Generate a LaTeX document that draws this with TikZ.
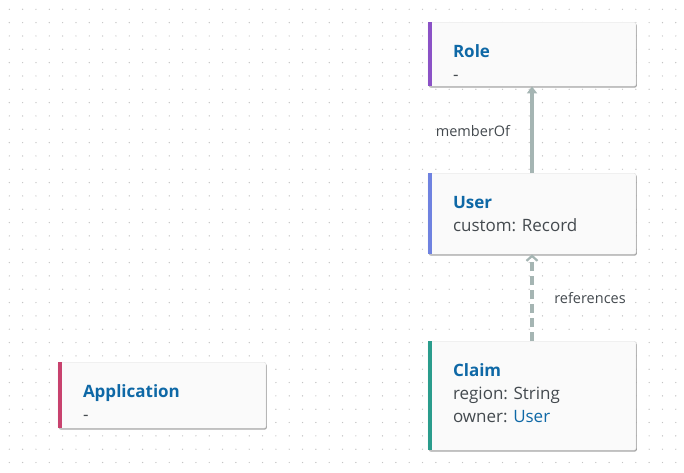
\documentclass[tikz,border=0pt]{standalone}
\usepackage{fontspec}
\setmainfont{Open Sans}
\frenchspacing
\usetikzlibrary{shadows,arrows.meta}

\definecolor{titleblue}{HTML}{0E68A6}
\definecolor{bodygray}{HTML}{444A4F}
\definecolor{linkgray}{HTML}{A5B5B3}
\definecolor{dotgray}{HTML}{C4C4C4}
\definecolor{rolec}{HTML}{8B52C6}
\definecolor{userc}{HTML}{6F82E0}
\definecolor{claimc}{HTML}{2A9C8C}
\definecolor{appc}{HTML}{C8426E}

\begin{document}
\begin{tikzpicture}[x=1pt,y=-1pt]
    \tikzstyle{entity}=[rectangle,rounded corners=2pt,draw=black!12,fill=white!98!black,anchor=north,
        text width=158pt,inner xsep=25pt,inner ysep=0pt,align=left,text height=35pt,
        font=\fontsize{17}{23}\selectfont,text=bodygray,
        drop shadow={shadow xshift=0.8pt,shadow yshift=-1.4pt,opacity=0.35,fill=black}]
    \tikzstyle{link}=[draw=linkgray,line width=3.5pt]
    \tikzstyle{linklabel}=[font=\fontsize{14.5}{16}\selectfont,text=bodygray,inner sep=1pt]
    \newcommand{\etitle}[1]{{\color{titleblue}\bfseries #1}}

\useasboundingbox[fill=white] (0,0) rectangle (684,472);
\foreach \i in {0,...,51}
    \foreach \j in {0,...,35}
        \fill[dotgray] (9.3+13.33*\i,9.3+13.33*\j) circle (0.7pt);

\node[entity,text depth=29pt] (role) at (532,22) {\etitle{Role}\\-};
\node[entity,text depth=46pt] (user) at (532,173) {\etitle{User}\\custom: Record};
\node[entity,text depth=74pt] (claim) at (532,341) {\etitle{Claim}\\region: String\\owner: {\color{titleblue}User}};
\node[entity,text depth=31pt] (app) at (162,362) {\etitle{Application}\\-};

\fill[rolec] ([xshift=0.3pt]role.north west) rectangle ([xshift=4.3pt]role.south west);
\fill[userc] ([xshift=0.3pt]user.north west) rectangle ([xshift=4.3pt]user.south west);
\fill[claimc] ([xshift=0.3pt]claim.north west) rectangle ([xshift=4.3pt]claim.south west);
\fill[appc] ([xshift=0.3pt]app.north west) rectangle ([xshift=4.3pt]app.south west);

\draw[link,-{Triangle[width=10pt,length=7pt]}] (user.north) -- (role.south);
\draw[link,dash pattern=on 9pt off 5pt,-{Straight Barb[width=11pt,length=5pt,line width=2.2pt]}] (claim.north) -- (user.south);

\node[linklabel] (member) at (473,131) {memberOf};
\node[linklabel] (refs) at (590,298) {references};
\end{tikzpicture}
\end{document}
